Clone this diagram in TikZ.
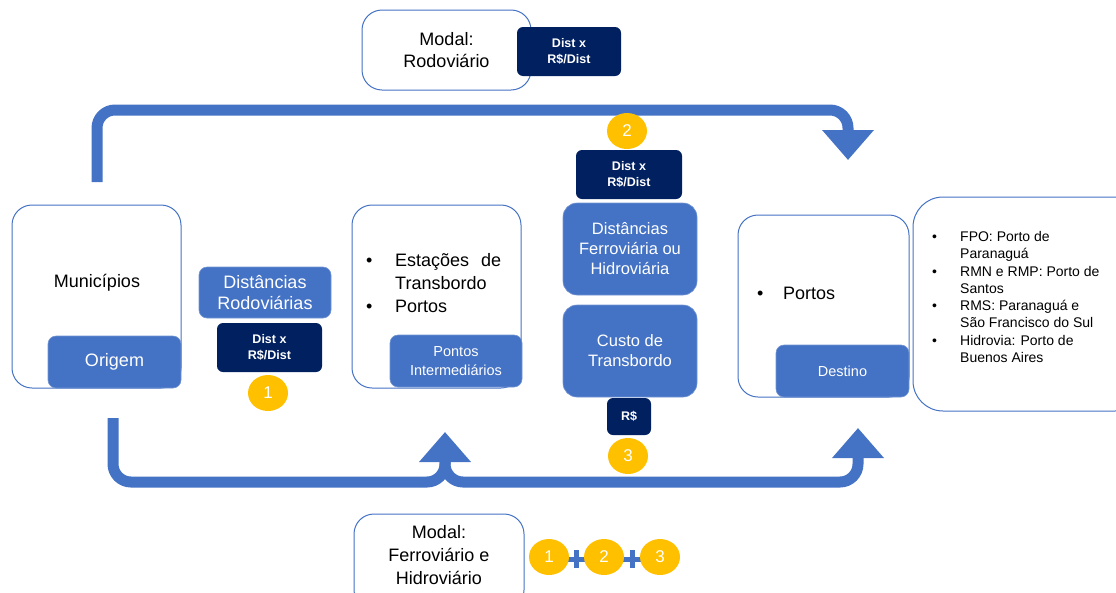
\documentclass[tikz,border=0pt]{standalone}
\usepackage{fontspec}
\setmainfont{Liberation Sans}
\usetikzlibrary{arrows.meta,shapes.geometric}

\definecolor{midblue}{HTML}{4472C4}
\definecolor{navy}{HTML}{002060}
\definecolor{gold}{HTML}{FFC000}

\newcommand{\fsz}[2]{\fontsize{#1}{#2}\selectfont}

\begin{document}
\begin{tikzpicture}[x=1pt, y=-1pt, align=center,
  whitebox/.style={draw=midblue, line width=1pt, fill=white, rounded corners=20pt, inner sep=0pt},
  bluebox/.style={fill=midblue, draw=midblue!75!white, line width=0.6pt, rounded corners=8pt, text=white, inner sep=0pt},
  navybox/.style={fill=navy, rounded corners=6pt, text=white, inner sep=0pt, font=\bfseries\fsz{12.5}{16}},
  badge/.style={ellipse, fill=gold, text=white, minimum width=40pt, minimum height=36pt, inner sep=0pt, font=\fsz{17}{20}},
  plusmark/.style={minimum size=18pt, inner sep=0pt,
    path picture={\draw [midblue, line width=5pt] (path picture bounding box.west) -- (path picture bounding box.east)
      (path picture bounding box.north) -- (path picture bounding box.south);}},
  txt/.style={inner sep=0pt},
  flow/.style={midblue, line width=11pt, rounded corners=18pt, -{Triangle[width=50pt,length=30pt]}}]
  \clip (0,0) rectangle (1116,592);

  % connectors
  \coordinate (rodstart) at (97,182);
  \coordinate (rodend) at (848,160);
  \coordinate (ferstart) at (113,418);
  \coordinate (ferend1) at (445,432);
  \coordinate (ferend2) at (858,428);
  \draw [flow] (rodstart) |- ([yshift=50pt]rodend) -- (rodend);
  \draw [flow] ([yshift=-23pt]ferend1) |- ([yshift=-54pt]ferend2) -- (ferend2);
  \draw [flow] (ferstart) |- ([yshift=-50pt]ferend1) -- (ferend1);

  % top: road modal
  \node [whitebox, minimum width=169pt, minimum height=80pt, font=\fsz{18}{22}] (modrod) at (446.5,50) {Modal:\\Rodoviário};
  \node [navybox, minimum width=104pt, minimum height=49pt] (rodcost) at (569,51.5) {Dist x\\R\$/Dist};

  % origin
  \node [whitebox, minimum width=169pt, minimum height=183pt] (mun) at (96.5,296.5) {};
  \node [txt, font=\fsz{18}{22}] (muntxt) at (97,283) {Municípios};
  \node [bluebox, minimum width=133pt, minimum height=52pt, font=\fsz{18}{22}] (orig) at (114.5,362) {Origem};

  \node [bluebox, minimum width=132pt, minimum height=51pt, font=\fsz{18}{21}] (distrod) at (265,292.5) {Distâncias\\Rodoviárias};
  \node [navybox, minimum width=105pt, minimum height=49pt] (cost1) at (269.5,347.5) {Dist x\\R\$/Dist};
  \node [badge] (b1) at (268,393) {1};

  % intermediate points
  \node [whitebox, minimum width=169pt, minimum height=183pt] (trans) at (436.5,296.5) {};
  \node [txt, font=\fsz{18}{23}, align=left, anchor=west] (transtxt) at (366,283)
    {\makebox[29pt][l]{•}Estações\hspace{12pt}de\\\makebox[29pt][l]{}Transbordo\\\makebox[29pt][l]{•}Portos};
  \node [bluebox, minimum width=132pt, minimum height=52pt, font=\fsz{14.5}{19}] (interm) at (456,361) {Pontos\\Intermediários};

  % rail and waterway column
  \node [badge] (b2) at (627,131) {2};
  \node [navybox, minimum width=106pt, minimum height=49pt] (cost2) at (629,174.5) {Dist x\\R\$/Dist};
  \node [bluebox, rounded corners=14pt, minimum width=134pt, minimum height=92pt, font=\fsz{16.5}{20}] (distfer) at (630,249) {Distâncias\\Ferroviária ou\\Hidroviária};
  \node [bluebox, rounded corners=14pt, minimum width=134pt, minimum height=92pt, font=\fsz{16.5}{20}] (custo) at (630,351) {Custo de\\Transbordo};
  \node [navybox, minimum width=44pt, minimum height=37pt] (cost3) at (629,416.5) {R\$};
  \node [badge] (b3) at (628,456) {3};

  % destination
  \node [whitebox, minimum width=171pt, minimum height=182pt] (port) at (823.5,306) {};
  \node [txt, font=\fsz{18}{22}, align=left, anchor=west] (porttxt) at (757,293) {\makebox[26pt][l]{•}Portos};
  \node [bluebox, minimum width=133pt, minimum height=52pt, font=\fsz{14.5}{18}] (dest) at (842.5,371) {Destino};

  \node [whitebox, rounded corners=30pt, minimum width=232pt, minimum height=214pt] (list) at (1029,304) {};
  \node [txt, font=\fsz{14}{17.3}, align=left, anchor=west] (listtxt) at (932,297)
    {\makebox[28pt][l]{•}FPO: Porto de\\\makebox[28pt][l]{}Paranaguá\\
     \makebox[28pt][l]{•}RMN e RMP: Porto de\\\makebox[28pt][l]{}Santos\\
     \makebox[28pt][l]{•}RMS: Paranaguá e\\\makebox[28pt][l]{}São Francisco do Sul\\
     \makebox[28pt][l]{•}Hidrovia: Porto de\\\makebox[28pt][l]{}Buenos Aires};

  % bottom: rail and waterway modal
  \node [whitebox, minimum width=170pt, minimum height=96pt] (modfer) at (439,562) {};
  \node [txt, font=\fsz{18}{23}] (modfertxt) at (439,555) {Modal:\\Ferroviário e\\Hidroviário};
  \node [plusmark] (plus1) at (576,559) {};
  \node [plusmark] (plus2) at (632,559) {};
  \node [badge] (s1) at (549,557) {1};
  \node [badge] (s2) at (604,557) {2};
  \node [badge] (s3) at (660,557) {3};
\end{tikzpicture}
\end{document}
